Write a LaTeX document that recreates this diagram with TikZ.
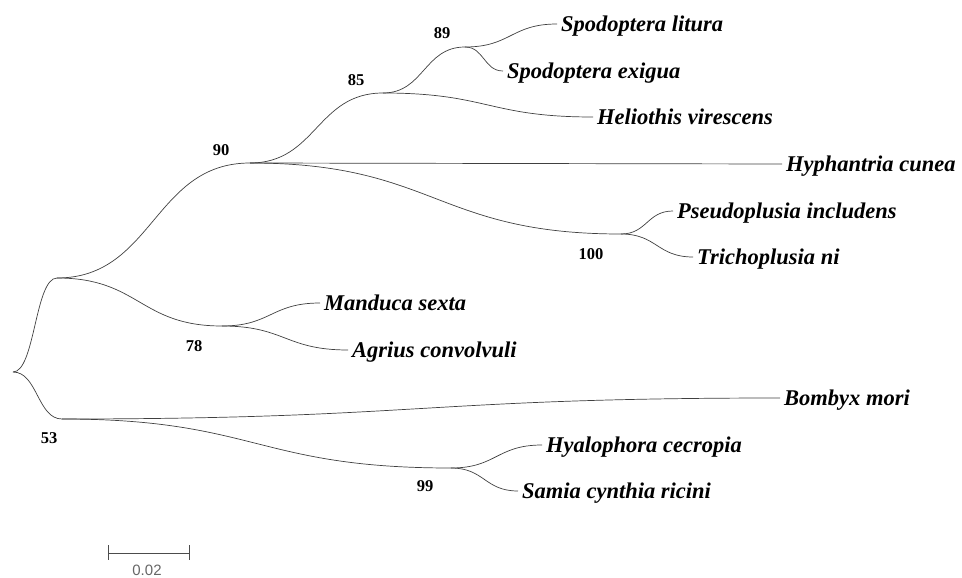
\documentclass[tikz,border=0pt]{standalone}
\usepackage{fontspec}
\setmainfont{Liberation Serif}
\setsansfont{Liberation Sans}
\usetikzlibrary{calc}
\tikzset{
  branch/.style={draw=black!75, line width=0.7pt},
  leaf/.style={anchor=west, inner xsep=4pt, inner ysep=0pt, text height=15pt, text depth=0pt,
     font=\fontsize{22.5}{26}\selectfont\bfseries\itshape},
  boot/.style={inner sep=0pt, font=\fontsize{16.5}{19}\selectfont\bfseries},
  scalebar/.style={draw=black!70, line width=0.8pt},
  scalelabel/.style={inner sep=0pt, text=black!60, font=\sffamily\fontsize{15}{17}\selectfont}
}
\newcommand{\branchto}[2]{%
  \path[branch] let \p1=(#1), \p2=(#2) in
    (\p1) .. controls ({(\x1+\x2)/2},\y1) and ({(\x1+\x2)/2},\y2) .. (\p2);}
\begin{document}
\begin{tikzpicture}[x=1pt,y=-1pt]
\useasboundingbox (0,0) rectangle (962,578);
% internal nodes
\coordinate (root) at (13,372);
\coordinate (nA) at (57,278);
\coordinate (n53) at (62,419);
\coordinate (n90) at (250,163);
\coordinate (n85) at (383,93);
\coordinate (n89) at (465,47);
\coordinate (n100) at (621,234);
\coordinate (n78) at (222,326);
\coordinate (n99) at (451,468);
% leaves
\node[leaf] (SL) at (557,24) {Spodoptera litura};
\node[leaf] (SE) at (503,71) {Spodoptera exigua};
\node[leaf] (HV) at (593,117) {Heliothis virescens};
\node[leaf] (HC) at (782,164) {Hyphantria cunea};
\node[leaf] (PI) at (673,211) {Pseudoplusia includens};
\node[leaf] (TN) at (693,257) {Trichoplusia ni};
\node[leaf] (MS) at (320,303) {Manduca sexta};
\node[leaf] (AC) at (348,350) {Agrius convolvuli};
\node[leaf] (BM) at (780,398) {Bombyx mori};
\node[leaf] (HY) at (542,445) {Hyalophora cecropia};
\node[leaf] (SC) at (518,491) {Samia cynthia ricini};
% branches
\branchto{root}{nA}
\branchto{root}{n53}
\branchto{nA}{n90}
\branchto{nA}{n78}
\branchto{n90}{n85}
\branchto{n90}{HC.west}
\branchto{n90}{n100}
\branchto{n85}{n89}
\branchto{n85}{HV.west}
\branchto{n89}{SL.west}
\branchto{n89}{SE.west}
\branchto{n100}{PI.west}
\branchto{n100}{TN.west}
\branchto{n78}{MS.west}
\branchto{n78}{AC.west}
\branchto{n53}{BM.west}
\branchto{n53}{n99}
\branchto{n99}{HY.west}
\branchto{n99}{SC.west}
% bootstrap values
\node[boot] (b89) at (442,33) {89};
\node[boot] (b85) at (356,80) {85};
\node[boot] (b90) at (221,150) {90};
\node[boot] (b100) at (591,254) {100};
\node[boot] (b78) at (194,346) {78};
\node[boot] (b53) at (49,438) {53};
\node[boot] (b99) at (425,486) {99};
% scale bar
\draw[scalebar] (108,553) -- (189,553);
\draw[scalebar] (108,545) -- (108,560);
\draw[scalebar] (189,545) -- (189,560);
\node[scalelabel] (sc) at (147,570) {0.02};
\end{tikzpicture}
\end{document}
